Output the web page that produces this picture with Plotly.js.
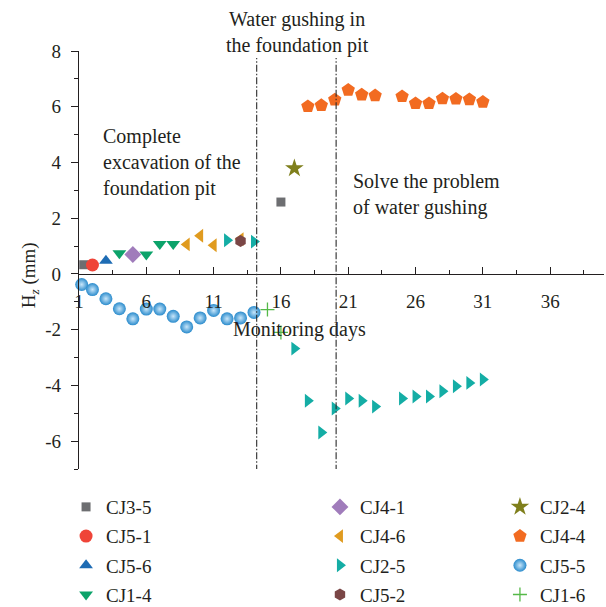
<!DOCTYPE html>
<html>
<head>
<meta charset="utf-8">
<script src="https://cdn.plot.ly/plotly-3.0.1.min.js"></script>
<style>
  html, body { margin: 0; padding: 0; background: #fff; }
  #chart { width: 606px; height: 607px; }
</style>
</head>
<body>
<div id="chart"></div>
<script>
// Vertical displacement H_z (mm) of monitoring points against monitoring day
const cj35_x = [1.35, 16];
const cj35_y = [0.33, 2.58];
const cj51_x = [2];
const cj51_y = [0.32];
const cj56_x = [3];
const cj56_y = [0.47];
const cj14_x = [4, 6, 7, 8];
const cj14_y = [0.74, 0.70, 1.07, 1.07];
const cj41_x = [5];
const cj41_y = [0.70];
const cj46_x = [9, 10, 11, 13];
const cj46_y = [1.06, 1.37, 1.03, 1.25];
const cj25_x = [12, 14, 17, 18, 19, 20, 21, 22, 23, 25, 26, 27, 28, 29, 30, 31];
const cj25_y = [1.21, 1.16, -2.68, -4.55, -5.69, -4.83, -4.47, -4.55, -4.76, -4.47, -4.40, -4.40, -4.21, -4.03, -3.91, -3.79];
const cj52_x = [13];
const cj52_y = [1.18];
const cj24_x = [17];
const cj24_y = [3.79];
const cj44_x = [18, 19, 20, 21, 22, 23, 25, 26, 27, 28, 29, 30, 31];
const cj44_y = [6.01, 6.05, 6.25, 6.60, 6.43, 6.40, 6.37, 6.12, 6.12, 6.29, 6.28, 6.26, 6.17];
const cj55_x = [1.2, 2, 3, 4, 5, 6, 7, 8, 9, 10, 11, 12, 13, 14];
const cj55_y = [-0.38, -0.56, -0.89, -1.25, -1.61, -1.26, -1.26, -1.52, -1.90, -1.58, -1.31, -1.61, -1.58, -1.38];
const cj16_x = [15, 16];
const cj16_y = [-1.28, -2.10];

// Days of the two construction events (dash-dot markers)
const eventDays = [14.2, 20.1];

// Axis ticks
const xTickStart = 1, xTickStep = 5;
const yTickVals = [-6, -4, -2, 0, 2, 4, 6, 8];
const yTickText = ['-6', '-4', '-2', '0', '2', '4', '6', '8'];

const FONT = 'Liberation Serif, Times New Roman, serif';
const INK = '#231f20';

function series(name, xs, ys, marker, legendId) {
  return {
    type: 'scatter', mode: 'markers', name: name,
    x: xs, y: ys, marker: marker,
    legend: legendId, legendgroup: name, cliponaxis: false
  };
}

const traces = [
  series('CJ3-5', cj35_x, cj35_y, {symbol: 'square', size: 9, color: '#6d6e71'}, 'legend'),
  series('CJ5-1', cj51_x, cj51_y, {symbol: 'circle', size: 13, color: '#ef4438'}, 'legend'),
  series('CJ5-6', cj56_x, cj56_y, {symbol: 'triangle-up', size: 12, color: '#1e6cb4'}, 'legend'),
  series('CJ1-4', cj14_x, cj14_y, {symbol: 'triangle-down', size: 12, color: '#0ca36a'}, 'legend'),
  series('CJ4-1', cj41_x, cj41_y, {symbol: 'diamond', size: 13, color: '#a07cbb'}, 'legend2'),
  series('CJ4-6', cj46_x, cj46_y, {symbol: 'triangle-left', size: 12, color: '#e09b1f'}, 'legend2'),
  series('CJ2-5', cj25_x, cj25_y, {symbol: 'triangle-right', size: 12, color: '#14ada5'}, 'legend2'),
  series('CJ5-2', cj52_x, cj52_y, {symbol: 'hexagon', size: 12, color: '#7a4646'}, 'legend2'),
  series('CJ2-4', cj24_x, cj24_y, {symbol: 'star', size: 14, color: '#7f7f1c'}, 'legend3'),
  series('CJ4-4', cj44_x, cj44_y, {symbol: 'pentagon', size: 14, color: '#f26b21'}, 'legend3'),
  series('CJ5-5', cj55_x, cj55_y, {symbol: 'circle', size: 13, color: '#2a8bcc',
                                   gradient: {type: 'radial', color: '#c8e6fa'}}, 'legend3'),
  series('CJ1-6', cj16_x, cj16_y, {symbol: 'cross-thin', size: 10, color: '#55b948',
                                   line: {color: '#55b948', width: 1.3}}, 'legend3')
];

const shapes = eventDays.map(d => ({
  type: 'line', xref: 'x', yref: 'y',
  x0: d, x1: d, y0: -7.1, y1: 7.75,
  line: {color: '#2b2b2b', width: 1.1, dash: '7px,2px,1.5px,2px'}
}));

function note(text, x, y, xanchor, yref) {
  return {
    text: text, x: x, y: y, xref: 'x', yref: yref || 'y',
    xanchor: xanchor, yanchor: 'middle', align: xanchor === 'center' ? 'center' : 'left',
    showarrow: false, font: {family: FONT, size: 20, color: INK}
  };
}

const annotations = [
  note('Water gushing in<br>the foundation pit', 17.2, 1.044, 'center', 'paper'),
  note('Complete<br>excavation of the<br>foundation pit', 2.65, 3.99, 'left'),
  note('Solve the problem<br>of water gushing', 21.2, 2.86, 'left'),
  note('Monitoring days', 17.4, -2.0, 'center'),
  // vertical axis title, set beside the y tick labels
  {text: 'H<sub><i>z</i></sub> (mm)', xref: 'paper', yref: 'paper',
   x: -0.093, y: 0.464, xanchor: 'center', yanchor: 'middle', textangle: -90,
   showarrow: false, font: {family: FONT, size: 19, color: INK}}
];

// Three legend columns placed in container coordinates below the plot
function legendAt(x) {
  return {
    xref: 'container', yref: 'container',
    x: x, y: 0.196, xanchor: 'left', yanchor: 'top',
    orientation: 'v', traceorder: 'grouped', tracegroupgap: 1.5,
    bgcolor: 'rgba(0,0,0,0)', borderwidth: 0,
    font: {family: FONT, size: 19, color: INK}
  };
}

const layout = {
  width: 606, height: 607,
  margin: {l: 79, r: 2, t: 51, b: 138, autoexpand: false},
  paper_bgcolor: '#fff', plot_bgcolor: '#fff',
  font: {family: FONT, size: 19, color: INK},
  showlegend: true,
  xaxis: {
    range: [1, 40], anchor: 'free', position: 7 / 15,
    tick0: xTickStart, dtick: xTickStep,
    ticks: 'inside', ticklen: 7, tickwidth: 1, tickcolor: INK,
    minor: {ticks: 'inside', dtick: 2.5, tick0: xTickStart, ticklen: 4, tickcolor: INK},
    ticklabelstandoff: 10,
    showline: true, linecolor: INK, linewidth: 1.2,
    showgrid: false, zeroline: false,
    tickfont: {family: FONT, size: 19, color: INK}
  },
  yaxis: {
    range: [-7, 8], tickmode: 'array', tickvals: yTickVals, ticktext: yTickText,
    ticks: 'outside', ticklen: 7, tickwidth: 1, tickcolor: INK,
    minor: {ticks: 'outside', dtick: 1, ticklen: 4, tickcolor: INK},
    ticklabelstandoff: 6,
    showline: true, linecolor: INK, linewidth: 1.2,
    showgrid: false, zeroline: false,
    tickfont: {family: FONT, size: 19, color: INK}
  },
  legend: legendAt(0.109),
  legend2: legendAt(0.528),
  legend3: legendAt(0.825),
  shapes: shapes,
  annotations: annotations
};

Plotly.newPlot('chart', traces, layout, {displayModeBar: false, staticPlot: true});
</script>
</body>
</html>
